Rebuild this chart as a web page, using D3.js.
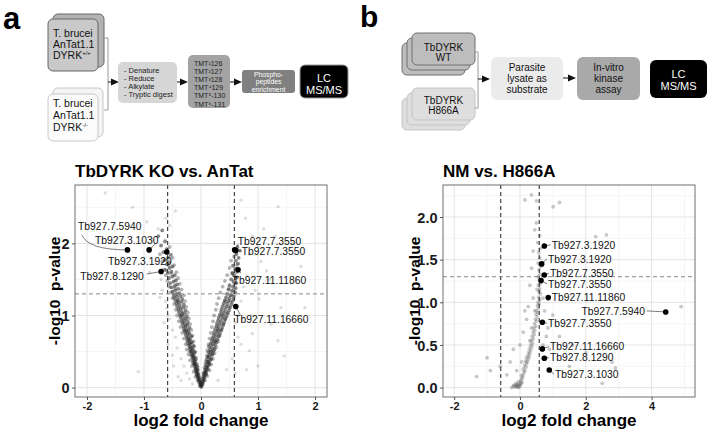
<!DOCTYPE html>
<html><head><meta charset="utf-8">
<script src="https://cdn.jsdelivr.net/npm/d3@7"></script>
<style>body{margin:0;background:#fff}svg{display:block;font-family:"Liberation Sans",Arial,Helvetica,sans-serif}</style>
</head><body><svg id="c" width="708" height="432"></svg>
<script>
// ---------------- DATA ----------------
// Panel a volcano (TbDYRK KO vs. AnTat): [log2FC, -log10 p]
const koDenseNeg = [[-0.01,0.02],[-0.02,0.04],[-0.005,0.05],[-0.03,0.07],[-0.015,0.08],[-0.04,0.10],[-0.025,0.11],[-0.05,0.13],[-0.03,0.14],[-0.06,0.15],[-0.045,0.17],[-0.07,0.18],[-0.05,0.19],[-0.08,0.21],[-0.06,0.22],[-0.09,0.23],[-0.07,0.25],[-0.1,0.26],[-0.085,0.27],[-0.06,0.29],[-0.11,0.30],[-0.09,0.31],[-0.12,0.33],[-0.1,0.34],[-0.14,0.35],[-0.11,0.37],[-0.13,0.38],[-0.09,0.39],[-0.15,0.41],[-0.12,0.42],[-0.14,0.43],[-0.17,0.45],[-0.13,0.46],[-0.155,0.47],[-0.11,0.49],[-0.18,0.50],[-0.16,0.51],[-0.14,0.53],[-0.2,0.54],[-0.17,0.55],[-0.19,0.57],[-0.13,0.58],[-0.22,0.59],[-0.18,0.61],[-0.2,0.62],[-0.16,0.63],[-0.24,0.65],[-0.21,0.66],[-0.19,0.67],[-0.25,0.69],[-0.22,0.70],[-0.17,0.71],[-0.27,0.73],[-0.23,0.74],[-0.2,0.75],[-0.28,0.77],[-0.25,0.78],[-0.22,0.79],[-0.3,0.81],[-0.26,0.82],[-0.2,0.83],[-0.31,0.85],[-0.27,0.86],[-0.24,0.87],[-0.33,0.89],[-0.29,0.90],[-0.23,0.91],[-0.34,0.93],[-0.3,0.94],[-0.26,0.95],[-0.36,0.97],[-0.31,0.98],[-0.25,0.99],[-0.37,1.01],[-0.33,1.02],[-0.29,1.03],[-0.39,1.05],[-0.34,1.06],[-0.27,1.07],[-0.4,1.09],[-0.36,1.10],[-0.31,1.11],[-0.42,1.13],[-0.37,1.14],[-0.3,1.15],[-0.43,1.17],[-0.39,1.18],[-0.34,1.19],[-0.45,1.21],[-0.4,1.22],[-0.33,1.23],[-0.47,1.25],[-0.42,1.26],[-0.36,1.27],[-0.48,1.29],[-0.43,1.30],[-0.38,1.31],[-0.5,1.33],[-0.45,1.35],[-0.4,1.37],[-0.52,1.39],[-0.46,1.41],[-0.42,1.43],[-0.54,1.45],[-0.48,1.47],[-0.44,1.49],[-0.56,1.52],[-0.5,1.54],[-0.46,1.56],[-0.58,1.59],[-0.52,1.61],[-0.62,1.63],[-0.55,1.66],[-0.5,1.68],[-0.6,1.71],[-0.56,1.74],[-0.64,1.77],[-0.58,1.80],[-0.53,1.84],[-0.66,1.88],[-0.6,1.92],[-0.7,1.97],[-0.63,2.03],[-0.75,2.1],[-0.68,2.18]];
const koDensePos = [[0.005,0.01],[0.015,0.03],[0.03,0.05],[0.01,0.06],[0.04,0.08],[0.02,0.09],[0.05,0.11],[0.03,0.12],[0.06,0.14],[0.04,0.15],[0.075,0.17],[0.05,0.18],[0.09,0.19],[0.06,0.21],[0.08,0.22],[0.1,0.24],[0.07,0.25],[0.12,0.26],[0.09,0.28],[0.11,0.29],[0.13,0.31],[0.08,0.32],[0.15,0.33],[0.11,0.35],[0.13,0.36],[0.16,0.38],[0.1,0.39],[0.18,0.40],[0.14,0.42],[0.12,0.43],[0.19,0.45],[0.15,0.46],[0.21,0.47],[0.13,0.49],[0.17,0.50],[0.22,0.52],[0.16,0.53],[0.24,0.54],[0.19,0.56],[0.14,0.57],[0.25,0.59],[0.21,0.60],[0.17,0.61],[0.27,0.63],[0.23,0.64],[0.19,0.65],[0.29,0.67],[0.24,0.68],[0.2,0.69],[0.31,0.71],[0.26,0.72],[0.22,0.73],[0.33,0.75],[0.28,0.76],[0.23,0.77],[0.35,0.79],[0.3,0.80],[0.25,0.81],[0.37,0.83],[0.31,0.84],[0.27,0.85],[0.39,0.87],[0.33,0.88],[0.28,0.89],[0.41,0.91],[0.35,0.92],[0.3,0.93],[0.43,0.95],[0.37,0.96],[0.31,0.97],[0.45,0.99],[0.39,1.00],[0.33,1.01],[0.47,1.03],[0.4,1.04],[0.35,1.05],[0.49,1.07],[0.42,1.08],[0.36,1.09],[0.51,1.11],[0.44,1.12],[0.38,1.13],[0.53,1.15],[0.46,1.16],[0.4,1.17],[0.55,1.19],[0.48,1.20],[0.42,1.21],[0.57,1.23],[0.5,1.24],[0.44,1.25],[0.58,1.27],[0.52,1.28],[0.46,1.30],[0.6,1.32],[0.54,1.34],[0.48,1.36],[0.61,1.38],[0.56,1.40],[0.5,1.42],[0.62,1.45],[0.57,1.47],[0.53,1.50],[0.63,1.53],[0.58,1.56],[0.55,1.59],[0.64,1.62],[0.6,1.65],[0.56,1.69],[0.65,1.72],[0.61,1.76],[0.66,1.80],[0.62,1.85],[0.68,1.90],[0.64,1.95]];
const koHaloNeg = [[-0.06,0.1],[-0.1,0.15],[-0.13,0.22],[-0.05,0.25],[-0.16,0.3],[-0.07,0.33],[-0.19,0.38],[-0.09,0.42],[-0.22,0.46],[-0.1,0.5],[-0.25,0.53],[-0.12,0.57],[-0.27,0.6],[-0.13,0.64],[-0.3,0.68],[-0.15,0.72],[-0.33,0.76],[-0.17,0.8],[-0.36,0.84],[-0.19,0.88],[-0.39,0.92],[-0.21,0.96],[-0.42,1.0],[-0.23,1.04],[-0.44,1.08],[-0.26,1.12],[-0.47,1.16],[-0.28,1.2],[-0.5,1.24],[-0.3,1.28],[-0.53,1.32],[-0.34,1.36],[-0.56,1.4],[-0.37,1.44],[-0.59,1.48],[-0.4,1.52],[-0.62,1.56],[-0.43,1.6],[-0.65,1.64],[-0.47,1.7],[-0.68,1.75],[-0.5,1.8],[-0.72,1.85],[-0.55,1.95],[-0.08,0.18],[-0.2,0.5],[-0.29,0.79],[-0.35,1.0],[-0.41,1.2],[-0.46,1.38],[-0.52,1.58],[-0.57,1.7],[-0.12,0.32],[-0.24,0.62]];
const koHaloPos = [[0.07,0.1],[0.11,0.16],[0.04,0.2],[0.15,0.24],[0.06,0.28],[0.18,0.32],[0.08,0.36],[0.21,0.4],[0.1,0.44],[0.24,0.48],[0.11,0.52],[0.27,0.56],[0.13,0.6],[0.3,0.64],[0.15,0.68],[0.33,0.72],[0.17,0.76],[0.36,0.8],[0.19,0.84],[0.39,0.88],[0.21,0.92],[0.42,0.96],[0.23,1.0],[0.45,1.04],[0.26,1.08],[0.48,1.12],[0.28,1.16],[0.51,1.2],[0.31,1.24],[0.54,1.28],[0.34,1.32],[0.57,1.36],[0.38,1.4],[0.59,1.44],[0.42,1.48],[0.61,1.52],[0.46,1.56],[0.62,1.6],[0.5,1.66],[0.63,1.7],[0.53,1.76],[0.58,1.82],[0.09,0.2],[0.2,0.5],[0.29,0.79],[0.36,1.0],[0.42,1.2],[0.49,1.38],[0.55,1.58],[0.14,0.34],[0.25,0.64]];
const koSparse = [[-0.3,0.3],[-0.42,0.55],[-0.5,0.8],[-0.55,0.95],[-0.6,1.1],[-0.62,1.2],[-0.58,1.0],[-0.45,0.7],[-0.35,0.4],[-0.25,0.2],[-0.2,0.12],[-0.15,0.05],[-0.68,1.35],[-0.7,1.5],[-0.8,1.75],[-0.85,2.05],[-0.55,2.25],[-0.62,2.35],[-0.75,2.2],[-0.9,1.6],[-1.1,0.22],[-0.4,0.15],[-0.35,0.1],[-0.5,0.45],[-0.65,0.9],[-0.72,1.25],[-1.68,2.7],[-1.2,2.5],[-0.95,2.3],[-0.45,2.45],[-0.58,0.6],[-0.48,0.3],
  [0.6,0.9],[0.65,1.0],[0.7,1.2],[0.75,1.4],[0.8,1.55],[0.78,2.35],[1.35,2.51],[0.9,2.1],[1.0,1.95],[1.1,2.2],[0.85,1.85],[1.75,1.68],[1.02,1.23],[1.4,1.11],[1.23,0.88],[1.35,0.65],[1.46,0.44],[0.85,0.51],[1.82,1.11],[0.7,0.6],[0.55,0.4],[0.45,0.25],[0.3,0.1],[0.65,0.7],[0.72,0.95],[1.2,1.5],[1.05,1.75],[0.95,1.35],[0.9,0.75],[1.6,2.0],[0.7,2.6],[1.3,2.1],[1.0,0.3],[0.8,0.25],[0.6,0.2],[1.15,1.62],[0.88,1.0]];
const koHitNames = ["Tb927.7.5940","Tb927.3.1030","Tb927.3.1920","Tb927.8.1290","Tb927.7.3550","Tb927.7.3550","Tb927.11.11860","Tb927.11.16660"];
const koHitFC = [-1.29,-0.91,-0.60,-0.70,0.59,0.61,0.65,0.61];
const koHitP  = [1.91,1.91,1.88,1.61,1.91,1.90,1.635,1.125];
const koLabFC = [-2.158,-1.86,-1.63,-2.12,0.644,0.714,0.556,0.584];
const koLabP  = [2.236,2.05,1.746,1.54,2.03,1.885,1.49,0.954];
const koLeadFC = [-2.093,-0.807,null,-0.953,0.654,0.71,0.70,0.69];
const koLeadP  = [2.12,1.99,null,1.575,1.99,1.89,1.586,1.01];
const koBendFC = [-1.98,null,null,null,null,null,null,null];
const koBendP  = [1.91,null,null,null,null,null,null,null];
const koXTicks = [-2,-1,0,1,2];
const koYTicks = [0,1,2];

// Panel b volcano (NM vs. H866A)
const nmPoints = [[-0.25,0.0],[-0.15,0.01],[-0.1,0.03],[-0.05,0.0],[-0.2,0.02],[0.0,0.04],[-0.12,0.05],[0.02,0.08],[0.05,0.1],[-0.05,0.07],[0.08,0.12],[0.1,0.15],[0.04,0.14],[0.12,0.18],[0.15,0.2],[0.1,0.22],[0.18,0.24],[0.14,0.26],[0.2,0.28],[0.22,0.3],[0.17,0.31],[0.25,0.33],[0.2,0.35],[0.28,0.36],[0.24,0.38],[0.3,0.4],[0.27,0.42],[0.33,0.44],[0.29,0.46],[0.36,0.48],[0.32,0.5],[0.38,0.52],[0.34,0.55],[0.4,0.57],[0.37,0.6],[0.43,0.62],[0.4,0.65],[0.45,0.67],[0.42,0.7],[0.48,0.72],[0.44,0.75],[0.5,0.78],[0.47,0.8],[0.52,0.83],[0.49,0.86],[0.55,0.88],[0.5,0.9],[0.56,0.93],[0.53,0.96],[0.58,0.98],[0.55,1.0],[0.6,1.03],[0.57,1.06],[0.62,1.1],[0.58,1.13],[0.6,1.16],[0.56,1.2],[0.62,1.22],[0.59,1.26],[0.55,1.3],[0.61,1.33],[0.58,1.38],[0.63,1.42],[0.55,1.46],[0.6,1.52],[0.57,1.58],[0.62,1.63],[0.54,1.7],[0.6,1.78],[0.5,1.93],[0.15,2.2],[0.35,2.26],[0.5,2.19],[1.01,2.12],[1.2,2.17],[2.63,1.79],[2.3,1.77],[0.45,1.85],[0.4,1.6],[0.35,1.4],[0.3,1.2],[0.25,0.95],[0.2,0.8],[0.7,1.05],[0.75,0.9],[0.8,0.6],[0.85,0.7],[0.7,0.5],[0.75,0.35],[-1.32,0.13],[-1.0,0.35],[-0.9,0.2],[-0.6,0.25],[-0.4,0.15],[-0.3,0.3],[-0.2,0.45],[0.0,0.5],[0.1,0.65],[0.15,0.9],[2.0,0.41],[2.8,0.3],[2.9,0.23],[4.9,0.95],[2.5,0.05],[1.5,0.25],[1.2,0.6],[1.0,0.85],[1.6,0.5],[0.9,0.45],[0.05,0.3],[-0.1,0.2],[0.3,0.55],[0.35,0.7],[0.45,0.9],[0.4,1.05],[0.52,1.15],[-0.12,0.01],[-0.08,0.02],[-0.03,0.01],[0.01,0.02],[-0.06,0.04],[0.03,0.05],[-0.18,0.03],[0.06,0.06]];
const nmHitNames = ["Tb927.3.1920","Tb927.3.1920","Tb927.7.3550","Tb927.7.3550","Tb927.11.11860","Tb927.7.5940","Tb927.7.3550","Tb927.11.16660","Tb927.8.1290","Tb927.3.1030"];
const nmHitFC = [0.74,0.66,0.74,0.64,0.86,4.43,0.68,0.68,0.74,0.89];
const nmHitP  = [1.66,1.45,1.32,1.255,1.055,0.887,0.767,0.454,0.344,0.207];
const nmLabFC = [0.963,0.851,0.912,0.851,0.963,3.80,0.851,0.912,0.912,1.064];
const nmLabP  = [1.673,1.509,1.341,1.216,1.060,0.899,0.755,0.481,0.352,0.157];
const nmXTicks = [-2,0,2,4];
const nmYTicks = [0,0.5,1,1.5,2];

// ---------------- DRAW ----------------
const svg = d3.select('#c');
const FONT = '"Liberation Sans",Arial,Helvetica,sans-serif';

function box(x,y,w,h,r,fill,stroke){
  svg.append('rect').attr('x',x).attr('y',y).attr('width',w).attr('height',h).attr('rx',r).attr('ry',r)
    .attr('fill',fill).attr('stroke',stroke||'none').attr('stroke-width',stroke?1:0);
}
function txt(x,y,s,size,fill,anchor,weight){
  return svg.append('text').attr('x',x).attr('y',y).text(s).attr('font-size',size)
    .attr('fill',fill||'#111').attr('text-anchor',anchor||'start').attr('font-weight',weight||'normal');
}
function arrow(x1,x2,y){
  svg.append('line').attr('x1',x1).attr('x2',x2-6).attr('y1',y).attr('y2',y).attr('stroke','#111').attr('stroke-width',1);
  svg.append('path').attr('d',`M${x2-8},${y-3.6}L${x2},${y}L${x2-8},${y+3.6}Z`).attr('fill','#111');
}
function bracket(x0,xm,y1,y2){
  svg.append('path').attr('d',`M${x0},${y1}H${xm}V${y2}H${x0}`).attr('fill','none').attr('stroke','#9a9a9a').attr('stroke-width',1);
}

// ---- panel a diagram ----
txt(3,29,'a',31,'#000','start','bold');
box(53,14,51,53,5,'#b3b3b3','#666');
box(48,19,50,52,5,'#c9c9c9','#666');
txt(53,37,'T. brucei',10.5);
txt(53,48,'AnTat1.1',10.5);
let t = txt(53,59,'DYRK',10.5); t.append('tspan').attr('dy',-4).attr('font-size',6).text('+/+');
box(53,88,50,49,5,'#f5f5f5','#c8c8c8');
box(48,94,50,47,5,'#fbfbfb','#c8c8c8');
txt(53,107,'T. brucei',10.5);
txt(53,119,'AnTat1.1',10.5);
t = txt(53,131,'DYRK',10.5); t.append('tspan').attr('dy',-4).attr('font-size',6).text('-/-');
bracket(104,108,38,110);
arrow(108,119,82);
box(118,62,59,41,5,'#d6d6d6');
['- Denature','- Reduce','- Alkylate','- Tryptic digest'].forEach((s,i)=>txt(124,73+i*8,s,7.5,'#222'));
arrow(177,188,82);
box(188,55,42,53,5,'#a3a3a3');
['TMT\u00b9126','TMT\u00b2127','TMT\u00b3128','TMT\u2074129','TMT\u2075-130','TMT\u2076-131'].forEach((s,i)=>txt(194,65.5+i*8.2,s,7,'#222'));
arrow(230,242,82);
box(242,70,53,23,3,'#808080');
['Phospho-','peptides','enrichment'].forEach((s,i)=>txt(268.5,76.5+i*7.6,s,6.8,'#fff','middle'));
box(300,65,48,33,5,'#000','#9a9a9a');
txt(324,81.5,'LC',11,'#fff','middle');
txt(324,94,'MS/MS',11,'#fff','middle');

// ---- panel b diagram ----
txt(360,27,'b',30,'#000','start','bold');
[[402,43],[407,38],[412,33]].forEach(p=>box(p[0],p[1],63,32,5,'#bdbdbd','#707070'));
txt(443.5,50.5,'TbDYRK',10,'#111','middle');
txt(443.5,61,'WT',10,'#111','middle');
[[402,98],[407,93],[412,88]].forEach(p=>box(p[0],p[1],63,32,5,'#dedede','#c4c4c4'));
txt(443.5,103.5,'TbDYRK',10,'#111','middle');
txt(443.5,114,'H866A',10,'#111','middle');
bracket(475,478,52,108);
arrow(478,490,79);
box(491,57,72,43,6,'#ebebeb');
['Parasite','lysate as','substrate'].forEach((s,i)=>txt(527,70.5+i*11,s,10,'#111','middle'));
arrow(563,576,78);
box(577,57,63,43,6,'#a9a9a9');
['In-vitro','kinase','assay'].forEach((s,i)=>txt(608.5,70.5+i*11,s,10,'#111','middle'));
box(650,60,57,38,6,'#000');
txt(678.5,78,'LC',11,'#fff','middle');
txt(678.5,90,'MS/MS',11,'#fff','middle');

// ---- volcano plots ----
function volcano(o){
  const x = d3.scaleLinear().domain(o.xd).range([o.L,o.R]);
  const y = d3.scaleLinear().domain(o.yd).range([o.B,o.T]);
  const g = svg.append('g');
  const cid = 'clip'+o.id;
  svg.append('clipPath').attr('id',cid).append('rect').attr('x',o.L).attr('y',o.T).attr('width',o.R-o.L).attr('height',o.B-o.T);
  g.append('rect').attr('x',o.L).attr('y',o.T).attr('width',o.R-o.L).attr('height',o.B-o.T).attr('fill','#fff');
  const gridG = g.append('g');
  o.xMinor.forEach(v=>gridG.append('line').attr('x1',x(v)).attr('x2',x(v)).attr('y1',o.T).attr('y2',o.B).attr('stroke','#f1f1f1').attr('stroke-width',0.7));
  o.yMinor.forEach(v=>gridG.append('line').attr('y1',y(v)).attr('y2',y(v)).attr('x1',o.L).attr('x2',o.R).attr('stroke','#f1f1f1').attr('stroke-width',0.7));
  o.xTicks.forEach(v=>gridG.append('line').attr('x1',x(v)).attr('x2',x(v)).attr('y1',o.T).attr('y2',o.B).attr('stroke','#e4e4e4').attr('stroke-width',1));
  o.yTicks.forEach(v=>gridG.append('line').attr('y1',y(v)).attr('y2',y(v)).attr('x1',o.L).attr('x2',o.R).attr('stroke','#e4e4e4').attr('stroke-width',1));
  const pg = g.append('g').attr('clip-path',`url(#${cid})`);
  pg.selectAll(null).data(o.sparse).join('circle').attr('cx',d=>x(d[0])).attr('cy',d=>y(d[1])).attr('r',1.7)
    .attr('fill','#666').attr('fill-opacity',0.22);
  pg.selectAll(null).data(o.halo).join('circle').attr('cx',d=>x(d[0])).attr('cy',d=>y(d[1])).attr('r',1.9)
    .attr('fill','#444').attr('fill-opacity',0.4);
  pg.selectAll(null).data(o.dense).join('circle').attr('cx',d=>x(d[0])).attr('cy',d=>y(d[1])).attr('r',o.denseR)
    .attr('fill',o.denseFill).attr('fill-opacity',o.denseOp);
  // threshold lines
  [-0.585,0.585].forEach(v=>g.append('line').attr('x1',x(v)).attr('x2',x(v)).attr('y1',o.T).attr('y2',o.B)
    .attr('stroke','#333').attr('stroke-width',1.1).attr('stroke-dasharray','4,3'));
  g.append('line').attr('x1',o.L).attr('x2',o.R).attr('y1',y(1.3)).attr('y2',y(1.3))
    .attr('stroke','#888').attr('stroke-width',1).attr('stroke-dasharray','4,3');
  // leaders
  o.names.forEach((n,i)=>{
    let ex, ey;
    if(o.leadFC){ if(o.leadFC[i]==null) return; ex=x(o.leadFC[i]); ey=y(o.leadP[i]); }
    else { ex = o.anchor[i]==='end' ? x(o.labFC[i])+2 : x(o.labFC[i])-1; ey = y(o.labP[i]); }
    const p = d3.path(); p.moveTo(x(o.fc[i]),y(o.p[i]));
    if(o.bendFC && o.bendFC[i]!=null) p.quadraticCurveTo(x(o.bendFC[i]),y(o.bendP[i]),ex,ey); else p.lineTo(ex,ey);
    g.append('path').attr('d',p.toString()).attr('fill','none').attr('stroke','#444').attr('stroke-width',0.7);
  });
  g.selectAll(null).data(o.names).join('circle').attr('cx',(d,i)=>x(o.fc[i])).attr('cy',(d,i)=>y(o.p[i])).attr('r',2.8).attr('fill','#000');
  g.selectAll(null).data(o.names).join('text').attr('x',(d,i)=>x(o.labFC[i])).attr('y',(d,i)=>y(o.labP[i])).attr('dy','0.36em')
    .attr('text-anchor',(d,i)=>o.anchor[i]).attr('font-size',10.3).attr('fill','#111').text(d=>d);
  // border
  g.append('rect').attr('x',o.L).attr('y',o.T).attr('width',o.R-o.L).attr('height',o.B-o.T).attr('fill','none').attr('stroke','#6e6e6e').attr('stroke-width',1);
  // axes
  const ax = g.append('g').attr('transform',`translate(0,${o.B})`).call(d3.axisBottom(x).tickValues(o.xTicks).tickSize(3).tickPadding(2.5).tickFormat(o.xFmt));
  const ay = g.append('g').attr('transform',`translate(${o.L},0)`).call(d3.axisLeft(y).tickValues(o.yTicks).tickSize(3).tickPadding(2.5).tickFormat(o.yFmt));
  [ax,ay].forEach(a=>{a.select('.domain').remove(); a.selectAll('line').attr('stroke','#555');
    a.selectAll('text').attr('font-family',FONT).attr('font-weight','bold').attr('fill','#1a1a1a');});
  ax.selectAll('text').attr('font-size',11);
  ay.selectAll('text').attr('font-size',14.5).attr('dy','0.36em');
  // titles
  txt(o.L,177,o.title,17,'#000','start','bold');
  txt((o.L+o.R)/2,426,'log2 fold change',17,'#000','middle','bold');
  svg.append('text').attr('transform',`translate(${o.yLabX},${(o.T+o.B)/2}) rotate(-90)`).attr('text-anchor','middle')
    .attr('font-size',15.5).attr('font-weight','bold').attr('fill','#000').attr('xml:space','preserve').style('white-space','pre').text('-log10  p-value');
}

volcano({id:'a', L:75,R:327,T:185,B:397, xd:[-2.21,2.21], yd:[-0.13,2.81],
  xTicks:koXTicks, yTicks:koYTicks, xMinor:[-1.5,-0.5,0.5,1.5], yMinor:[0.5,1.5,2.5],
  xFmt:d=>String(d), yFmt:d=>String(d),
  dense:koDenseNeg.concat(koDensePos), halo:koHaloNeg.concat(koHaloPos), sparse:koSparse,
  denseR:1.9, denseFill:'#222', denseOp:0.55,
  names:koHitNames, fc:koHitFC, p:koHitP, labFC:koLabFC, labP:koLabP, anchor:koHitNames.map(()=> 'start'),
  leadFC:koLeadFC, leadP:koLeadP, bendFC:koBendFC, bendP:koBendP,
  title:'TbDYRK KO vs. AnTat', yLabX:60});

volcano({id:'b', L:443,R:695,T:185,B:397, xd:[-2.34,5.32], yd:[-0.11,2.375],
  xTicks:nmXTicks, yTicks:nmYTicks, xMinor:[-1,1,3,5], yMinor:[0.25,0.75,1.25,1.75,2.25],
  xFmt:d=>String(d), yFmt:d=>d.toFixed(1),
  dense:nmPoints, halo:[], sparse:[], denseR:1.9, denseFill:'#555', denseOp:0.32,
  names:nmHitNames, fc:nmHitFC, p:nmHitP, labFC:nmLabFC, labP:nmLabP,
  anchor:nmHitNames.map((d,i)=> i===5?'end':'start'),
  title:'NM vs. H866A', yLabX:420});
</script></body></html>
